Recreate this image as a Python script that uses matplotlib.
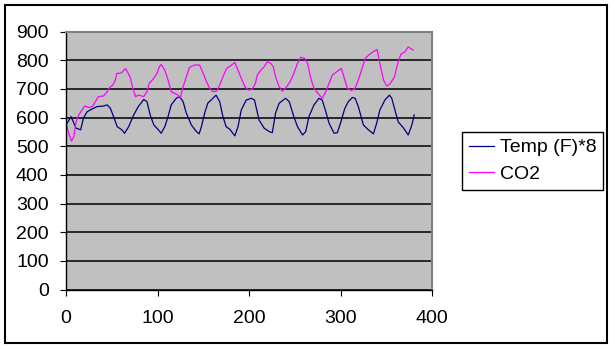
import matplotlib.pyplot as plt
from matplotlib.patches import Rectangle

# --- data ---
temp_x = [0, 5.5, 11, 16, 19, 23, 28, 34, 41, 45, 48.5, 52, 56, 61, 64, 68.5, 74, 79,
          85, 88.5, 92, 96, 101, 104, 108, 111.5, 115, 120.5, 124, 128, 131.5, 137,
          142.5, 145.5, 148, 151.5, 155, 160.5, 164, 168, 171.5, 175, 179, 184.5, 188,
          191.5, 197, 202.5, 206, 208.5, 211, 216.5, 222, 225.5, 229, 233, 240, 244,
          249, 253, 258.5, 262, 265.5, 271, 276.5, 280, 284, 287.5, 293, 296.5, 300,
          304.5, 308.5, 313, 316, 319.5, 322.5, 325, 330.5, 336, 339.5, 343, 348.5,
          353.5, 356, 359.5, 363, 369, 374, 378, 380.5]
temp_y = [574, 603, 563, 557, 597, 620, 629, 638, 640, 644, 632, 603, 568, 557, 545, 568,
          609, 638, 663, 655, 609, 574, 557, 545, 568, 603, 644, 667, 673, 655, 615, 574,
          551, 543, 568, 615, 650, 667, 678, 655, 603, 568, 559, 536, 568, 626, 661, 667,
          661, 626, 591, 563, 551, 547, 615, 650, 667, 655, 603, 568, 539, 551, 603, 644,
          667, 661, 620, 580, 545, 547, 580, 630, 655, 670, 667, 638, 603, 574, 557, 543,
          580, 626, 661, 678, 667, 626, 585, 563, 539, 574, 609]

co2_x = [0, 3, 6, 8.5, 11, 14, 17.5, 20.5, 25, 29, 32, 35.5, 41, 45, 47.5, 51, 54, 55.5,
         59.5, 62, 65, 68, 70.5, 73, 76, 79.5, 82.5, 85, 88.5, 91, 96, 99.5, 102, 104,
         108, 111.5, 115, 119, 122.5, 125, 128, 131.5, 135, 140.5, 146, 150, 153.5, 157,
         160.5, 164.5, 168, 171.5, 175.5, 181, 184.5, 188, 191.5, 195.5, 199, 203.5, 207,
         209, 213, 216.5, 220, 223.5, 226.5, 229, 233, 236.5, 240, 245, 249, 253, 256.5,
         261, 264, 267.5, 271, 275.5, 280, 284, 287.5, 291, 296, 301, 305, 307.5, 312,
         316, 319.5, 323, 327, 332, 337, 340, 343, 347, 350.5, 354, 359, 362.5, 366,
         370.5, 374, 377, 379.5]
co2_y = [580, 545, 518, 533, 586, 609, 626, 640, 635, 638, 655, 673, 675, 690, 704, 713,
         731, 754, 754, 760, 771, 754, 737, 702, 673, 678, 675, 673, 690, 719, 737, 754,
         777, 785, 765, 731, 690, 684, 678, 669, 707, 742, 775, 783, 783, 754, 725, 702,
         690, 692, 713, 742, 771, 783, 792, 765, 737, 707, 696, 698, 719, 748, 765, 777,
         794, 790, 777, 742, 707, 692, 702, 725, 754, 789, 810, 806, 789, 737, 702, 684,
         667, 690, 719, 748, 760, 771, 728, 702, 694, 702, 731, 765, 806, 821, 832, 837,
         789, 731, 710, 717, 742, 789, 821, 829, 846, 840, 835]

x_ticks = [0, 100, 200, 300, 400]
y_ticks = [0, 100, 200, 300, 400, 500, 600, 700, 800, 900]

plt.rcParams['font.family'] = ['Liberation Sans', 'DejaVu Sans']

W, H = 614, 349
fig = plt.figure(figsize=(W / 100, H / 100), dpi=100)
ax = fig.add_axes([66 / W, 1 - 289.5 / H, (432 - 66) / W, (289.5 - 31.5) / H])
ax.set_facecolor('#C0C0C0')

ax.plot(temp_x, temp_y, color='#000080', lw=0.9, label='Temp (F)*8')
ax.plot(co2_x, co2_y, color='#FF00FF', lw=0.9, label='CO2')

ax.set_xlim(0, 400)
ax.set_ylim(0, 900)
ax.set_xticks(x_ticks)
ax.set_yticks(y_ticks)
ax.tick_params(axis='both', labelsize=14, direction='out', length=4.5, width=0.8, color='black')
ax.tick_params(axis='x', pad=10)
ax.tick_params(axis='y', pad=8)
ax.yaxis.grid(True, color='black', lw=1.1)

for side in ('left', 'bottom'):
    ax.spines[side].set_color('black')
    ax.spines[side].set_linewidth(1.0)
for side in ('top', 'right'):
    ax.spines[side].set_color('#808080')
    ax.spines[side].set_linewidth(1.5)

leg = fig.legend(loc='upper left', bbox_to_anchor=(462 / W, 1 - 132 / H),
                 fontsize=14, frameon=True, fancybox=False, framealpha=1,
                 edgecolor='black', borderpad=0.35, labelspacing=0.45,
                 handlelength=1.3, handletextpad=0.3, borderaxespad=0)
leg.get_frame().set_linewidth(1.0)

# outer chart border
fig.patches.append(Rectangle((5 / W, 1 - 343 / H), (607 - 5) / W, (343 - 5) / H,
                             transform=fig.transFigure, fill=False,
                             edgecolor='black', lw=1.5))

fig.savefig('out.png', dpi=100)
